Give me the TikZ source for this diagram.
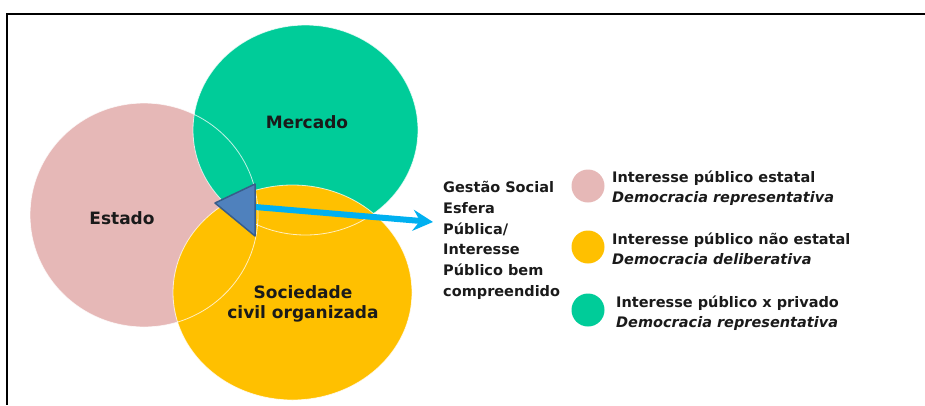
\documentclass[tikz,border=0pt]{standalone}
\usepackage{fontspec}
\setmainfont{DejaVu Sans}
\usetikzlibrary{shapes.geometric,arrows.meta}

\definecolor{rosa}{HTML}{E6B8B7}
\definecolor{verde}{HTML}{00CC99}
\definecolor{amarelo}{HTML}{FFC000}
\definecolor{azultri}{HTML}{4F81BD}
\definecolor{bordatri}{HTML}{385D8A}
\definecolor{ciano}{HTML}{00B0F0}
\definecolor{texto}{HTML}{1A1A1A}

\begin{document}
\begin{tikzpicture}[x=1pt,y=-1pt,
  blob/.style={ellipse,inner sep=0pt,outer sep=0pt},
  ring/.style={blob,draw=white,draw opacity=0.75,line width=0.8pt},
  rotulo/.style={font=\fontsize{17}{20}\selectfont\bfseries,text=texto,inner sep=0pt,align=center},
  legtxt/.style={font=\fontsize{14.5}{20}\selectfont\bfseries,text=texto,inner sep=0pt,align=left,anchor=north west},
  legdot/.style={circle,inner sep=0pt,minimum size=33pt},
  seta/.style={ciano,line width=6pt,-{Stealth[length=20pt,width=21pt,inset=7pt]}}]
\useasboundingbox (0,0) rectangle (925,405);

% moldura
\draw[line width=2pt] (925,14) -- (7,14) -- (7,405);

% circulos
\node[blob,fill=rosa,minimum width=228pt,minimum height=224pt] (estado) at (144,215) {};
\node[blob,fill=verde,minimum width=225pt,minimum height=210pt] (mercado) at (305.5,130) {};
\node[blob,fill=amarelo,minimum width=239pt,minimum height=215pt] (sociedade) at (292.5,292.5) {};
% contornos claros
\node[ring,minimum width=228pt,minimum height=224pt] (estadoc) at (estado) {};
\node[ring,minimum width=225pt,minimum height=210pt] (mercadoc) at (mercado) {};
\node[ring,minimum width=239pt,minimum height=215pt] (sociedadec) at (sociedade) {};

% seta e triangulo
\coordinate (setaini) at (255,207);
\coordinate (setafim) at (433,222);
\draw[seta] (setaini) -- (setafim);
\coordinate (tri1) at (215,203);
\coordinate (tri2) at (255,184);
\coordinate (tri3) at (255,236);
\filldraw[fill=azultri,draw=bordatri,line width=1.5pt,line join=round] (tri1) -- (tri2) -- (tri3) -- cycle;

% rotulos
\node[rotulo] (lestado) at (122,218) {Estado};
\node[rotulo] (lmercado) at (307,122) {Mercado};
\node[rotulo] (lsociedade) at (303,304) {Sociedade\\civil organizada};

\node[legtxt,font=\fontsize{14.5}{20.8}\selectfont\bfseries] (gestao) at (443,181)
  {Gestão Social\\Esfera\\Pública/\\Interesse\\Público bem\\compreendido};

% legenda
\node[legdot,fill=rosa] (dotestatal) at (588,186) {};
\node[legtxt] (txtestatal) at (612,171) {Interesse público estatal\\\textit{Democracia representativa}};
\node[legdot,fill=amarelo] (dotnaoestatal) at (588,247) {};
\node[legtxt] (txtnaoestatal) at (612,233) {Interesse público não estatal\\\textit{Democracia deliberativa}};
\node[legdot,fill=verde] (dotprivado) at (588,310) {};
\node[legtxt] (txtprivado) at (616,296) {Interesse público x privado\\\textit{Democracia representativa}};
\end{tikzpicture}
\end{document}
